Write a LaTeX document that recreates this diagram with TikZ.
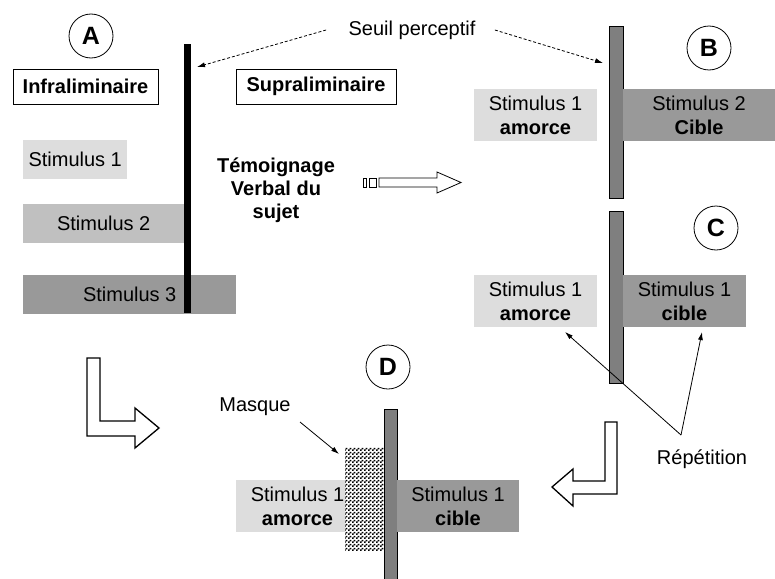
\documentclass[tikz,border=0pt]{standalone}
\usepackage{fontspec}
\setmainfont{Liberation Sans}
\usepackage{xcolor}
\usepackage{tikz}
\usetikzlibrary{arrows.meta,patterns}
\definecolor{stimlight}{HTML}{DDDDDD}
\definecolor{stimmid}{HTML}{C0C0C0}
\definecolor{stimdark}{HTML}{999999}
\definecolor{bargray}{HTML}{7F7F7F}
\newcommand{\stimfont}{\fontsize{20}{24}\selectfont}
% damier fin du masque
\pgfdeclarepatternformonly{maskchecker}{\pgfpointorigin}{\pgfqpoint{4pt}{4pt}}{\pgfqpoint{4pt}{4pt}}{
  \pgfpathrectangle{\pgfpointorigin}{\pgfqpoint{2pt}{2pt}}
  \pgfpathrectangle{\pgfqpoint{2pt}{2pt}}{\pgfqpoint{2pt}{2pt}}
  \pgfusepath{fill}}
\tikzset{
  stimbox/.style={inner sep=0pt, align=center, font=\stimfont},
  labelcirc/.style={circle, draw, line width=0.8pt, minimum size=44pt, inner sep=0pt, font=\fontsize{25}{25}\selectfont\bfseries},
  barbox/.style={fill=bargray, draw=black, line width=0.8pt, inner sep=0pt, anchor=north west},
  hollow/.style={draw=black, fill=white, line width=1.3pt, line join=miter},
  pointer/.style={-{Latex[length=8pt,width=5pt]}, line width=0.8pt},
}

\begin{document}
\begin{tikzpicture}[x=1pt,y=-1pt]
\useasboundingbox (0,0) rectangle (775,578);

% A : seuil et trois stimuli
\node[labelcirc] (circA) at (91,36) {A};
\node[draw, line width=0.8pt, inner sep=0pt, minimum width=145pt, minimum height=35pt, font=\stimfont\bfseries] (infra) at (85.5,86.5) {Infraliminaire};
\node[draw, line width=0.8pt, inner sep=0pt, minimum width=160pt, minimum height=35pt, font=\stimfont\bfseries] (supra) at (316,86.5) {Supraliminaire};
\foreach \n/\c/\w/\y in {1/stimlight/104/159.5, 2/stimmid/161/223.5, 3/stimdark/213/294.5} % edit here for the stimuli
  \node[stimbox, fill=\c, minimum width=\w pt, minimum height=39pt, anchor=west] (stimA\n) at (23,\y) {Stimulus \n};
\node[fill=black, inner sep=0pt, minimum width=7pt, minimum height=269pt, anchor=north west] (barA) at (184,44) {};
\node[font=\fontsize{20}{23}\selectfont\bfseries, align=center] (temoin) at (276,190) {Témoignage\\Verbal du\\sujet};

% fleche vers B
\draw[line width=0.8pt] (363,178) rectangle (366,187) (369,178) rectangle (376,187);
\draw[line width=0.8pt] (379,178) -- (437,178) -- (437,172) -- (461,182.5) -- (437,193) -- (437,187) -- (379,187) -- cycle;

% seuil perceptif
\node[font=\stimfont] (seuil) at (412,30) {Seuil perceptif};
\coordinate (tipA) at (197,67);
\coordinate (tipB) at (603,63);
\draw[pointer, densely dashed] ([xshift=-19pt]seuil.west) -- (tipA);
\draw[pointer, densely dashed] ([xshift=16pt]seuil.east) -- (tipB);

% B
\node[barbox, minimum width=14pt, minimum height=172pt] (barB) at (609,26) {};
\node[labelcirc] (circB) at (709,48) {B};
\node[stimbox, fill=stimlight, minimum width=123pt, minimum height=52pt] (amorceB) at (535.5,115) {Stimulus 1\\\textbf{amorce}};
\node[stimbox, fill=stimdark, minimum width=152pt, minimum height=52pt] (cibleB) at (699,115) {Stimulus 2\\\textbf{Cible}};

% C
\node[barbox, minimum width=14pt, minimum height=172pt] (barC) at (609,211) {};
\node[labelcirc] (circC) at (716,228) {C};
\node[stimbox, fill=stimlight, minimum width=123pt, minimum height=52pt] (amorceC) at (535.5,301) {Stimulus 1\\\textbf{amorce}};
\node[stimbox, fill=stimdark, minimum width=123pt, minimum height=52pt] (cibleC) at (684.5,301) {Stimulus 1\\\textbf{cible}};

% repetition
\node[font=\stimfont] (repet) at (702,459) {Répétition};
\coordinate (apex) at (681,435);
\coordinate (repA) at (565,332);
\coordinate (repB) at (702,332);
\draw[pointer] (apex) -- (repA);
\draw[pointer] (apex) -- (repB);

% grandes fleches vers D
\draw[hollow] (87,358) -- (100,358) -- (100,421) -- (135,421) -- (135,408) -- (159,428) -- (135,448) -- (135,436) -- (87,436) -- cycle;
\draw[hollow] (605,422) -- (617,422) -- (617,494) -- (573,494) -- (573,506) -- (552,487) -- (573,469) -- (573,481) -- (605,481) -- cycle;

% D : masque
\node[labelcirc] (circD) at (388,367) {D};
\node[stimbox, fill=stimlight, minimum width=123pt, minimum height=52pt] (amorceD) at (297.5,506) {Stimulus 1\\\textbf{amorce}};
\node[inner sep=0pt, minimum width=46pt, minimum height=103pt, anchor=north west, preaction={fill=white}, pattern=maskchecker, pattern color=black] (mask) at (345,447) {};
\node[barbox, minimum width=13pt, minimum height=172pt] (barD) at (384,409) {};
\node[stimbox, fill=stimdark, minimum width=122pt, minimum height=52pt] (cibleD) at (458,506) {Stimulus 1\\\textbf{cible}};
\node[font=\stimfont] (masque) at (255,407) {Masque};
\coordinate (mskfrom) at (300,422);
\coordinate (msktip) at (339,454);
\draw[pointer] (mskfrom) -- (msktip);
\end{tikzpicture}
\end{document}
